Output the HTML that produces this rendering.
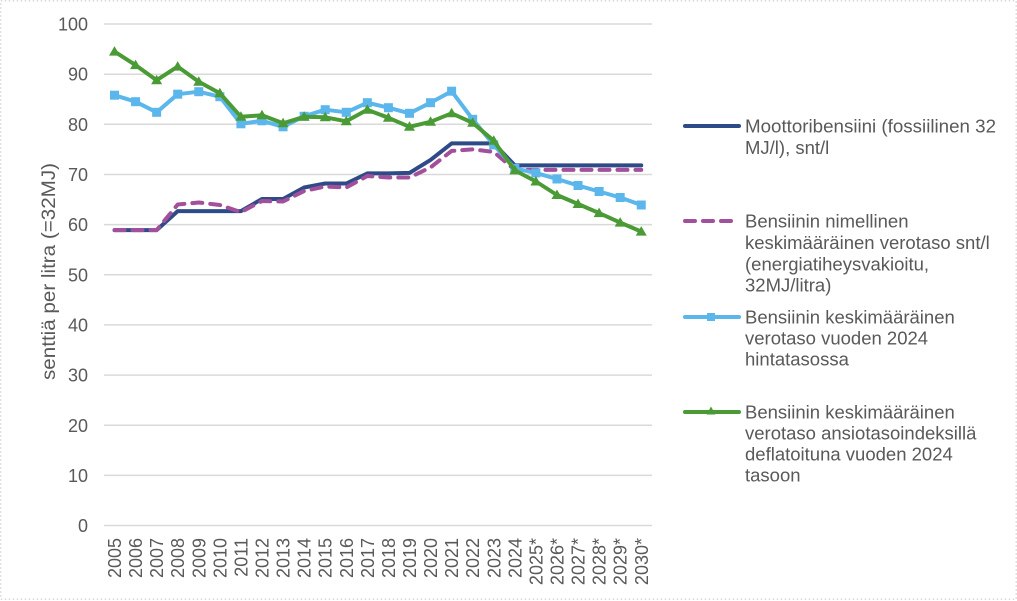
<!DOCTYPE html>
<html><head><meta charset="utf-8"><style>
html,body{margin:0;padding:0;background:#fff;}
svg{display:block;}
text{font-family:"Liberation Sans",Arial,sans-serif;fill:#595959;}
</style></head><body>
<svg width="1017" height="601" viewBox="0 0 1017 601" xmlns="http://www.w3.org/2000/svg">
<rect x="0.75" y="0.75" width="1015.5" height="598.5" fill="#fff" stroke="#d9d9d9" stroke-width="1.5" stroke-dasharray="1.5 2.5"/>
<g stroke="#d9d9d9" stroke-width="1.5">
<line x1="104" x2="652" y1="525.5" y2="525.5"/>
<line x1="104" x2="652" y1="475.4" y2="475.4"/>
<line x1="104" x2="652" y1="425.2" y2="425.2"/>
<line x1="104" x2="652" y1="375.1" y2="375.1"/>
<line x1="104" x2="652" y1="324.9" y2="324.9"/>
<line x1="104" x2="652" y1="274.8" y2="274.8"/>
<line x1="104" x2="652" y1="224.6" y2="224.6"/>
<line x1="104" x2="652" y1="174.5" y2="174.5"/>
<line x1="104" x2="652" y1="124.3" y2="124.3"/>
<line x1="104" x2="652" y1="74.2" y2="74.2"/>
<line x1="104" x2="652" y1="24" y2="24"/>
</g>
<g font-size="18" text-anchor="end">
<text x="88" y="532">0</text>
<text x="88" y="482">10</text>
<text x="88" y="432">20</text>
<text x="88" y="381.5">30</text>
<text x="88" y="331.5">40</text>
<text x="88" y="281.5">50</text>
<text x="88" y="231">60</text>
<text x="88" y="181">70</text>
<text x="88" y="131">80</text>
<text x="88" y="80.5">90</text>
<text x="88" y="30.5">100</text>
</g>
<text font-size="19" text-anchor="middle" transform="translate(55,271.5) rotate(-90)" textLength="217" lengthAdjust="spacingAndGlyphs">senttiä per litra (=32MJ)</text>
<g font-size="18" text-anchor="end">
<text transform="translate(121,538) rotate(-90)">2005</text>
<text transform="translate(142.1,538) rotate(-90)">2006</text>
<text transform="translate(163.1,538) rotate(-90)">2007</text>
<text transform="translate(184.2,538) rotate(-90)">2008</text>
<text transform="translate(205.3,538) rotate(-90)">2009</text>
<text transform="translate(226.4,538) rotate(-90)">2010</text>
<text transform="translate(247.4,538) rotate(-90)">2011</text>
<text transform="translate(268.5,538) rotate(-90)">2012</text>
<text transform="translate(289.6,538) rotate(-90)">2013</text>
<text transform="translate(310.6,538) rotate(-90)">2014</text>
<text transform="translate(331.7,538) rotate(-90)">2015</text>
<text transform="translate(352.8,538) rotate(-90)">2016</text>
<text transform="translate(373.8,538) rotate(-90)">2017</text>
<text transform="translate(394.9,538) rotate(-90)">2018</text>
<text transform="translate(416,538) rotate(-90)">2019</text>
<text transform="translate(437,538) rotate(-90)">2020</text>
<text transform="translate(458.1,538) rotate(-90)">2021</text>
<text transform="translate(479.2,538) rotate(-90)">2022</text>
<text transform="translate(500.3,538) rotate(-90)">2023</text>
<text transform="translate(521.3,538) rotate(-90)">2024</text>
<text transform="translate(542.4,538) rotate(-90)">2025*</text>
<text transform="translate(563.5,538) rotate(-90)">2026*</text>
<text transform="translate(584.5,538) rotate(-90)">2027*</text>
<text transform="translate(605.6,538) rotate(-90)">2028*</text>
<text transform="translate(626.7,538) rotate(-90)">2029*</text>
<text transform="translate(647.8,538) rotate(-90)">2030*</text>
</g>
<!-- navy -->
<polyline fill="none" stroke="#2f4b87" stroke-width="4" stroke-linejoin="round" stroke-linecap="round" points="114.5,230.1 135.57,230.1 156.64,230.1 177.71,211.1 198.78,211.1 219.85,211.1 240.92,211.1 261.99,199 283.06,199 304.13,187.5 325.2,183.5 346.27,183.5 367.34,173.4 388.41,173.4 409.48,172.9 430.55,159.9 451.62,143.4 472.69,143.4 493.76,143.4 514.83,165.4 535.9,165.4 556.97,165.4 578.04,165.4 599.11,165.4 620.18,165.4 641.25,165.4"/>
<!-- purple dashed -->
<polyline fill="none" stroke="#a3509c" stroke-width="4" stroke-linejoin="round" stroke-linecap="round" stroke-dasharray="10 8" points="114.5,230.1 135.57,230.1 156.64,230.1 177.71,204.5 198.78,202.5 219.85,205 240.92,212.1 261.99,201 283.06,201.5 304.13,191 325.2,186.5 346.27,187.5 367.34,176 388.41,177.5 409.48,177.5 430.55,167.4 451.62,150.9 472.69,149.4 493.76,151.9 514.83,169.9 535.9,169.9 556.97,169.9 578.04,169.9 599.11,169.9 620.18,169.9 641.25,169.9"/>
<!-- light blue -->
<polyline fill="none" stroke="#5bb6ec" stroke-width="4" stroke-linejoin="round" points="114.5,95.2 135.57,101.7 156.64,112.3 177.71,94.2 198.78,91.7 219.85,96.7 240.92,123.8 261.99,120.8 283.06,126.8 304.13,116.3 325.2,109.7 346.27,112.3 367.34,102.7 388.41,107.7 409.48,113.3 430.55,102.7 451.62,91.2 472.69,119.3 493.76,144.9 514.83,168.4 535.9,172.9 556.97,179 578.04,185.5 599.11,191.5 620.18,197.5 641.25,205"/>
<g fill="#5bb6ec">
<rect x="110" y="90.7" width="9" height="9"/>
<rect x="131.07" y="97.2" width="9" height="9"/>
<rect x="152.14" y="107.8" width="9" height="9"/>
<rect x="173.21" y="89.7" width="9" height="9"/>
<rect x="194.28" y="87.2" width="9" height="9"/>
<rect x="215.35" y="92.2" width="9" height="9"/>
<rect x="236.42" y="119.3" width="9" height="9"/>
<rect x="257.49" y="116.3" width="9" height="9"/>
<rect x="278.56" y="122.3" width="9" height="9"/>
<rect x="299.63" y="111.8" width="9" height="9"/>
<rect x="320.7" y="105.2" width="9" height="9"/>
<rect x="341.77" y="107.8" width="9" height="9"/>
<rect x="362.84" y="98.2" width="9" height="9"/>
<rect x="383.91" y="103.2" width="9" height="9"/>
<rect x="404.98" y="108.8" width="9" height="9"/>
<rect x="426.05" y="98.2" width="9" height="9"/>
<rect x="447.12" y="86.7" width="9" height="9"/>
<rect x="468.19" y="114.8" width="9" height="9"/>
<rect x="489.26" y="140.4" width="9" height="9"/>
<rect x="510.33" y="163.9" width="9" height="9"/>
<rect x="531.4" y="168.4" width="9" height="9"/>
<rect x="552.47" y="174.5" width="9" height="9"/>
<rect x="573.54" y="181" width="9" height="9"/>
<rect x="594.61" y="187" width="9" height="9"/>
<rect x="615.68" y="193" width="9" height="9"/>
<rect x="636.75" y="200.5" width="9" height="9"/>
</g>
<!-- green -->
<polyline fill="none" stroke="#4a9b35" stroke-width="4" stroke-linejoin="round" points="114.5,51.6 135.57,65.1 156.64,80.2 177.71,66.6 198.78,81.7 219.85,93.2 240.92,116.8 261.99,115.3 283.06,123.3 304.13,116.8 325.2,117.3 346.27,121.3 367.34,109.7 388.41,117.8 409.48,126.8 430.55,121.8 451.62,113.3 472.69,122.8 493.76,140.8 514.83,170.4 535.9,181.5 556.97,195 578.04,204 599.11,213.1 620.18,222.6 641.25,231.6"/>
<g fill="#4a9b35" id="tri">
<path d="M114.5,46.1 l5.5,9.5 h-11z"/>
<path d="M135.57,59.6 l5.5,9.5 h-11z"/>
<path d="M156.64,74.7 l5.5,9.5 h-11z"/>
<path d="M177.71,61.1 l5.5,9.5 h-11z"/>
<path d="M198.78,76.2 l5.5,9.5 h-11z"/>
<path d="M219.85,87.7 l5.5,9.5 h-11z"/>
<path d="M240.92,111.3 l5.5,9.5 h-11z"/>
<path d="M261.99,109.8 l5.5,9.5 h-11z"/>
<path d="M283.06,117.8 l5.5,9.5 h-11z"/>
<path d="M304.13,111.3 l5.5,9.5 h-11z"/>
<path d="M325.2,111.8 l5.5,9.5 h-11z"/>
<path d="M346.27,115.8 l5.5,9.5 h-11z"/>
<path d="M367.34,104.2 l5.5,9.5 h-11z"/>
<path d="M388.41,112.3 l5.5,9.5 h-11z"/>
<path d="M409.48,121.3 l5.5,9.5 h-11z"/>
<path d="M430.55,116.3 l5.5,9.5 h-11z"/>
<path d="M451.62,107.8 l5.5,9.5 h-11z"/>
<path d="M472.69,117.3 l5.5,9.5 h-11z"/>
<path d="M493.76,135.3 l5.5,9.5 h-11z"/>
<path d="M514.83,164.9 l5.5,9.5 h-11z"/>
<path d="M535.9,176 l5.5,9.5 h-11z"/>
<path d="M556.97,189.5 l5.5,9.5 h-11z"/>
<path d="M578.04,198.5 l5.5,9.5 h-11z"/>
<path d="M599.11,207.6 l5.5,9.5 h-11z"/>
<path d="M620.18,217.1 l5.5,9.5 h-11z"/>
<path d="M641.25,226.1 l5.5,9.5 h-11z"/>
</g>
<!-- legend -->
<line x1="685" x2="739" y1="126" y2="126" stroke="#2f4b87" stroke-width="4" stroke-linecap="round"/>
<line x1="685" x2="739" y1="221" y2="221" stroke="#a3509c" stroke-width="4" stroke-linecap="round" stroke-dasharray="10 8"/>
<line x1="685" x2="739" y1="317" y2="317" stroke="#5bb6ec" stroke-width="4" stroke-linecap="round"/>
<rect x="707" y="313" width="8" height="8" fill="#5bb6ec"/>
<line x1="685" x2="739" y1="412" y2="412" stroke="#4a9b35" stroke-width="4" stroke-linecap="round"/>
<path d="M711,406.5 l4.5,8 h-9z" fill="#4a9b35"/>
<g font-size="18.5">
<text x="745" y="132.3" textLength="251" lengthAdjust="spacingAndGlyphs">Moottoribensiini (fossiilinen 32</text>
<text x="745" y="154">MJ/l), snt/l</text>
<text x="745" y="227.7">Bensiinin nimellinen</text>
<text x="745" y="249">keskimääräinen verotaso snt/l</text>
<text x="745" y="270.3">(energiatiheysvakioitu,</text>
<text x="745" y="291.5">32MJ/litra)</text>
<text x="745" y="323.3">Bensiinin keskimääräinen</text>
<text x="745" y="344.4">verotaso vuoden 2024</text>
<text x="745" y="365.5">hintatasossa</text>
<text x="745" y="418.3">Bensiinin keskimääräinen</text>
<text x="745" y="439.4">verotaso ansiotasoindeksillä</text>
<text x="745" y="460.6">deflatoituna vuoden 2024</text>
<text x="745" y="481.7">tasoon</text>
</g>
</svg>
</body></html>
